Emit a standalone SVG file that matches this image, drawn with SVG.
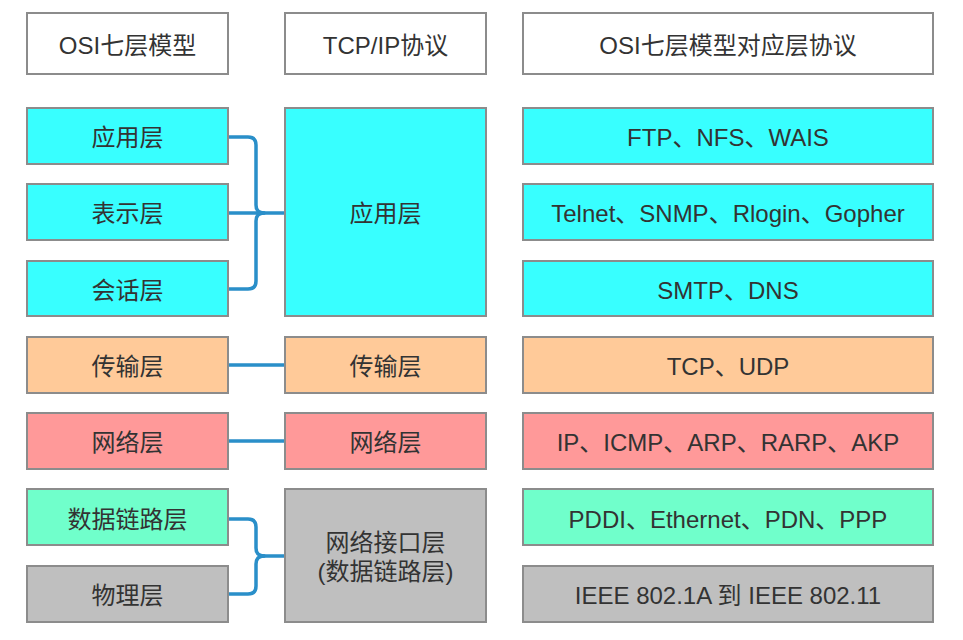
<svg xmlns="http://www.w3.org/2000/svg" width="963" height="640" viewBox="0 0 963 640">
<style>
.n rect{stroke:#8c8c8c;stroke-width:2}
.w{fill:#ffffff}.c{fill:#38ffff}.o{fill:#ffca99}.r{fill:#ff9999}.g{fill:#70ffcb}.s{fill:#bfbfbf}
text{font-family:"Liberation Sans","Noto Sans CJK SC",sans-serif;font-size:24px;fill:#333333;text-anchor:middle;dominant-baseline:central}
.conn path{fill:none;stroke:#2a8fc9;stroke-width:3.5;stroke-linecap:round}
</style>
<rect width="963" height="640" fill="#ffffff"/>
<g id="connectors" class="conn">
<path d="M228,137 H248 Q256,137 256,145 V205 Q256,213 264,213"/>
<path d="M228,289 H248 Q256,289 256,281 V221 Q256,213 264,213"/>
<path d="M228,213 H285"/>
<path d="M228,365 H285"/>
<path d="M228,441 H285"/>
<path d="M228,519 H248 Q256,519 256,527 V548 Q256,556 264,556"/>
<path d="M228,594 H248 Q256,594 256,586 V564 Q256,556 264,556"/>
<path d="M262,556 H285"/>
</g>
<g class="n">
<g id="h-osi"><rect class="w" x="27" y="13" width="201" height="61"/><text x="127.5" y="45">OSI七层模型</text></g>
<g id="h-tcp"><rect class="w" x="285" y="13" width="201" height="61"/><text x="385.5" y="45">TCP/IP协议</text></g>
<g id="h-proto"><rect class="w" x="523" y="13" width="410" height="61"/><text x="728" y="45">OSI七层模型对应层协议</text></g>

<g id="osi-app"><rect class="c" x="27" y="108" width="201" height="56"/><text x="127.5" y="137">应用层</text></g>
<g id="osi-pres"><rect class="c" x="27" y="184" width="201" height="56"/><text x="127.5" y="213">表示层</text></g>
<g id="osi-sess"><rect class="c" x="27" y="261" width="201" height="55"/><text x="127.5" y="290">会话层</text></g>
<g id="osi-trans"><rect class="o" x="27" y="337" width="201" height="56"/><text x="127.5" y="366">传输层</text></g>
<g id="osi-net"><rect class="r" x="27" y="413" width="201" height="56"/><text x="127.5" y="442">网络层</text></g>
<g id="osi-dl"><rect class="g" x="27" y="489" width="201" height="56"/><text x="127.5" y="519">数据链路层</text></g>
<g id="osi-phy"><rect class="s" x="27" y="566" width="201" height="56"/><text x="127.5" y="595">物理层</text></g>

<g id="tcp-app"><rect class="c" x="285" y="108" width="201" height="208"/><text x="385.5" y="213">应用层</text></g>
<g id="tcp-trans"><rect class="o" x="285" y="337" width="201" height="56"/><text x="385.5" y="366">传输层</text></g>
<g id="tcp-net"><rect class="r" x="285" y="413" width="201" height="56"/><text x="385.5" y="442">网络层</text></g>
<g id="tcp-link"><rect class="s" x="285" y="489" width="201" height="133"/><text x="385.5" y="542">网络接口层</text><text x="385.5" y="571">(数据链路层)</text></g>

<g id="p-app"><rect class="c" x="523" y="108" width="410" height="56"/><text x="728" y="137">FTP、NFS、WAIS</text></g>
<g id="p-pres"><rect class="c" x="523" y="184" width="410" height="56"/><text x="728" y="213">Telnet、SNMP、Rlogin、Gopher</text></g>
<g id="p-sess"><rect class="c" x="523" y="261" width="410" height="55"/><text x="728" y="290">SMTP、DNS</text></g>
<g id="p-trans"><rect class="o" x="523" y="337" width="410" height="56"/><text x="728" y="366">TCP、UDP</text></g>
<g id="p-net"><rect class="r" x="523" y="413" width="410" height="56"/><text x="728" y="442">IP、ICMP、ARP、RARP、AKP</text></g>
<g id="p-dl"><rect class="g" x="523" y="489" width="410" height="56"/><text x="728" y="519">PDDI、Ethernet、PDN、PPP</text></g>
<g id="p-phy"><rect class="s" x="523" y="566" width="410" height="56"/><text x="728" y="595">IEEE 802.1A 到 IEEE 802.11</text></g>
</g>
</svg>
